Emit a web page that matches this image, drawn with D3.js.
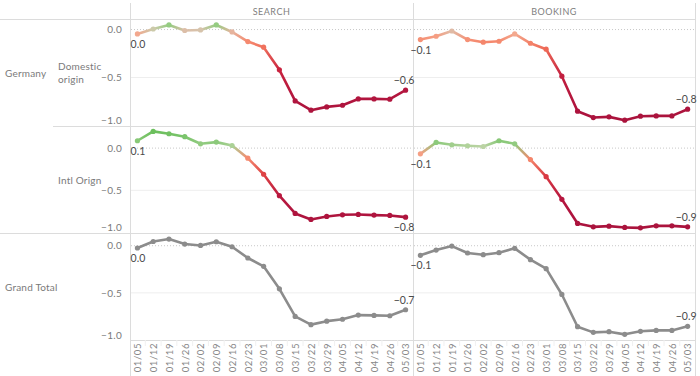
<!DOCTYPE html>
<html lang="en">
	<head>
		<meta charset="utf-8">
		<title>Search / Booking trend</title>
		<script src="https://d3js.org/d3.v7.min.js"></script>
		<style type="text/css">
			body { margin: 0; background: #fff; }
			text { font-family: Lato, "Open Sans", sans-serif; }
		</style>
	</head>
	<body>
		<script type="text/javascript">
// data (weekly change vs baseline)
var weeks = ["01/05","01/12","01/19","01/26","02/02","02/09","02/16","02/23","03/01",
	"03/08","03/15","03/22","03/29","04/05","04/12","04/19","04/26","05/03"];
var columns = ["SEARCH", "BOOKING"];

var searchDomestic = [-0.046, 0.006, 0.048, -0.01, -0.004, 0.048, -0.025, -0.125, -0.184,
	-0.42, -0.744, -0.84, -0.806, -0.789, -0.723, -0.723, -0.726, -0.632];
var bookingDomestic = [-0.104, -0.07, -0.015, -0.104, -0.132, -0.122, -0.046, -0.143, -0.205,
	-0.486, -0.851, -0.917, -0.91, -0.945, -0.903, -0.9, -0.9, -0.83];
var searchIntl = [0.087, 0.198, 0.17, 0.135, 0.051, 0.071, 0.031, -0.119, -0.31,
	-0.564, -0.774, -0.845, -0.81, -0.79, -0.786, -0.794, -0.798, -0.818];
var bookingIntl = [-0.068, 0.067, 0.039, 0.027, 0.019, 0.087, 0.051, -0.136, -0.338,
	-0.607, -0.893, -0.933, -0.925, -0.94, -0.945, -0.921, -0.921, -0.933];
var searchTotal = [-0.024, 0.045, 0.071, 0.018, 0.003, 0.042, -0.011, -0.13, -0.218,
	-0.457, -0.75, -0.837, -0.8, -0.78, -0.736, -0.739, -0.743, -0.679];
var bookingTotal = [-0.102, -0.046, -0.004, -0.077, -0.095, -0.074, -0.028, -0.148, -0.243,
	-0.517, -0.859, -0.919, -0.912, -0.94, -0.908, -0.898, -0.898, -0.855];
var yTicks = [0, -0.5, -1];

			var w = 700, h = 376;
			var paneX = [130, 413, 695];
			// rows: top, bottom, domain top, which series, coloured or not, last label side
			var rows = [
				{top: 19, bottom: 125.5, max: 0.11, data: [searchDomestic, bookingDomestic], colored: true, lastBelow: [false, false]},
				{top: 127, bottom: 232.5, max: 0.25, data: [searchIntl, bookingIntl], colored: true, lastBelow: [true, false]},
				{top: 233, bottom: 340, max: 0.135, data: [searchTotal, bookingTotal], colored: false, lastBelow: [false, false]}
			];

			var color = d3.scaleLinear()
				.domain([-1, -0.6, -0.4, -0.25, -0.12, -0.05, -0.015, 0, 0.02, 0.05, 0.2])
				.range(["#a8123c", "#b5163f", "#cb243f", "#ea5749", "#f58b70", "#f5a68b",
					"#e0baa5", "#d3c6ad", "#bad4a3", "#92cb80", "#6abf5c"])
				.clamp(true);

			var fmt = function(v){
				var s = d3.format(".1f")(v);
				return s == "-0.0" ? "0.0" : s;
			};

			var svg = d3.select("body").append("svg")
				.attr("width", w)
				.attr("height", h);
			var defs = svg.append("defs");

			var lineColor = "#dcdcdc";

			// frame lines
			svg.append("line").attr("x1", 0).attr("x2", paneX[2]).attr("y1", 19.5).attr("y2", 19.5)
				.attr("stroke", lineColor);
			svg.append("line").attr("x1", 53).attr("x2", paneX[2]).attr("y1", 126.5).attr("y2", 126.5)
				.attr("stroke", lineColor);
			svg.append("line").attr("x1", 0).attr("x2", paneX[2]).attr("y1", 233.5).attr("y2", 233.5)
				.attr("stroke", lineColor);
			svg.append("line").attr("x1", paneX[0]).attr("x2", paneX[2]).attr("y1", 340.5).attr("y2", 340.5)
				.attr("stroke", lineColor);
			paneX.forEach(function(px){
				svg.append("line").attr("x1", px + 0.5).attr("x2", px + 0.5).attr("y1", 3).attr("y2", 376)
					.attr("stroke", lineColor);
			});

			// column headers
			columns.forEach(function(c, ci){
				svg.append("text")
					.attr("x", (paneX[ci] + paneX[ci + 1]) / 2)
					.attr("y", 15)
					.attr("text-anchor", "middle")
					.style("font-size", "9px")
					.style("letter-spacing", "0.5px")
					.attr("fill", "#808080")
					.text(c);
			});

			// row headers
			var rowHead = function(x, y, lines){
				var t = svg.append("text").attr("x", x).attr("y", y)
					.style("font-size", "10px")
					.style("letter-spacing", "0.2px")
					.attr("fill", "#7a7a7a");
				lines.forEach(function(l, i){
					t.append("tspan").attr("x", x).attr("dy", i == 0 ? 0 : 13).text(l);
				});
			};
			rowHead(5, 77, ["Germany"]);
			rowHead(58, 70, ["Domestic", "origin"]);
			rowHead(58, 184, ["Intl Orign"]);
			rowHead(5, 291, ["Grand Total"]);

			var segId = 0;

			rows.forEach(function(row, ri){
				var y = d3.scaleLinear()
					.domain([-1, row.max])
					.range([row.bottom, row.top]);

				// y axis
				var ax = svg.append("g")
					.attr("transform", "translate(" + (paneX[0] - 5) + ",0)")
					.call(d3.axisLeft(y).tickValues(yTicks).tickSize(0).tickFormat(d3.format(".1f")));
				ax.select(".domain").remove();
				ax.selectAll("text")
					.style("font-size", "10px")
					.style("letter-spacing", "0.3px")
					.attr("fill", "#7a7a7a")
					.attr("dy", function(d){ return d == -1 ? "-0.2em" : "0.32em"; });

				columns.forEach(function(c, ci){
					var x = d3.scalePoint()
						.domain(weeks)
						.range([paneX[ci], paneX[ci + 1]])
						.padding(0.47);
					var vals = row.data[ci];
					var g = svg.append("g");

					// gridlines
					g.append("line")
						.attr("x1", paneX[ci] + 1).attr("x2", paneX[ci + 1])
						.attr("y1", y(0)).attr("y2", y(0))
						.attr("stroke", "#c8c8c8")
						.attr("stroke-dasharray", "1,2");
					g.append("line")
						.attr("x1", paneX[ci] + 1).attr("x2", paneX[ci + 1])
						.attr("y1", y(-0.5)).attr("y2", y(-0.5))
						.attr("stroke", "#eeeeee");

					if (row.colored) {
						for (var i = 0; i < vals.length - 1; i++) {
							var id = "seg" + (segId++);
							var grad = defs.append("linearGradient")
								.attr("id", id)
								.attr("gradientUnits", "userSpaceOnUse")
								.attr("x1", x(weeks[i])).attr("y1", y(vals[i]))
								.attr("x2", x(weeks[i + 1])).attr("y2", y(vals[i + 1]));
							grad.append("stop").attr("offset", "0%").attr("stop-color", color(vals[i]));
							grad.append("stop").attr("offset", "100%").attr("stop-color", color(vals[i + 1]));
							g.append("line")
								.attr("x1", x(weeks[i])).attr("y1", y(vals[i]))
								.attr("x2", x(weeks[i + 1])).attr("y2", y(vals[i + 1]))
								.attr("stroke", "url(#" + id + ")")
								.attr("stroke-width", 2.6)
								.attr("stroke-linecap", "round");
						}
					} else {
						g.append("path")
							.datum(vals)
							.attr("d", d3.line()
								.x(function(d, i){ return x(weeks[i]); })
								.y(function(d){ return y(d); }))
							.attr("fill", "none")
							.attr("stroke", "#8c8c8c")
							.attr("stroke-width", 2.6)
							.attr("stroke-linejoin", "round");
					}

					g.selectAll("circle")
						.data(vals)
						.enter()
						.append("circle")
						.attr("cx", function(d, i){ return x(weeks[i]); })
						.attr("cy", function(d){ return y(d); })
						.attr("r", 2.6)
						.attr("fill", function(d){ return row.colored ? color(d) : "#8c8c8c"; });

					// first / last labels
					var n = vals.length - 1;
					g.append("text")
						.attr("x", x(weeks[0]) + 0.5)
						.attr("y", y(vals[0]) + 14)
						.attr("text-anchor", "middle")
						.style("font-size", "10.5px")
						.attr("fill", "#4a4a4a")
						.text(fmt(vals[0]));
					g.append("text")
						.attr("x", x(weeks[n]) - 1.5)
						.attr("y", row.lastBelow[ci] ? y(vals[n]) + 14 : y(vals[n]) - 6)
						.attr("text-anchor", "middle")
						.style("font-size", "10.5px")
						.attr("fill", "#4a4a4a")
						.text(fmt(vals[n]));

					// x axis labels under the last row
					if (ri == rows.length - 1) {
						var xa = svg.append("g")
							.attr("transform", "translate(0," + (row.bottom + 2) + ")")
							.call(d3.axisBottom(x).tickSize(0));
						xa.select(".domain").remove();
						xa.selectAll("text")
							.style("font-size", "9.5px")
							.attr("fill", "#888")
							.style("letter-spacing", "0.6px")
							.attr("text-anchor", "end")
							.attr("dx", 0)
							.attr("dy", "0.35em")
							.attr("y", 0)
							.attr("x", -1)
							.attr("transform", "rotate(-90)");
						weeks.forEach(function(wk, i){
							if (i == 0) return;
							var bx = x(wk) - x.step() / 2;
							svg.append("line")
								.attr("x1", bx).attr("x2", bx)
								.attr("y1", row.bottom).attr("y2", 346)
								.attr("stroke", "#f0f0f0");
						});
					}
				});
			});
		</script>
	</body>
</html>
